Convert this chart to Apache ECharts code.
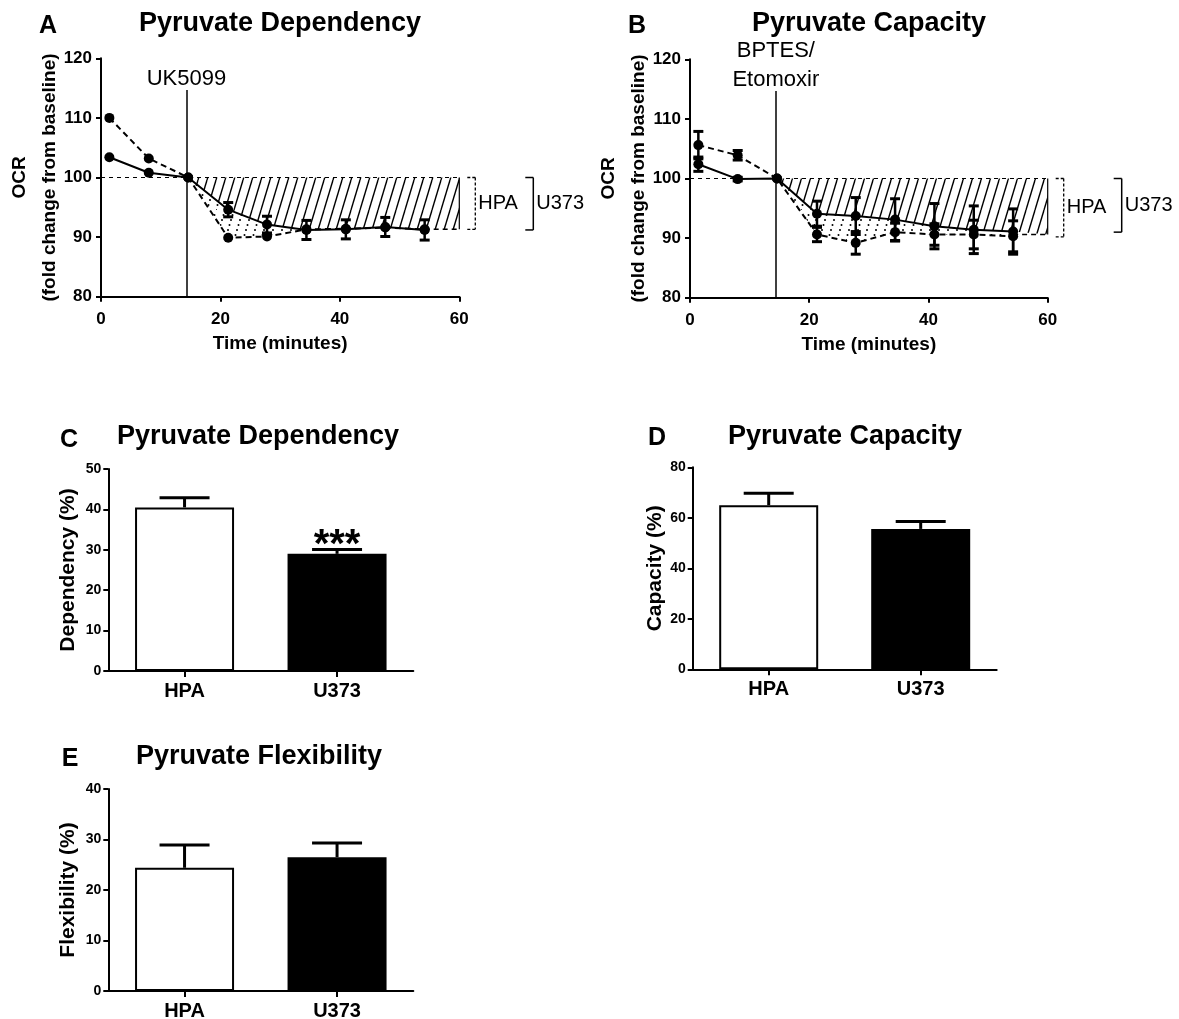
<!DOCTYPE html>
<html><head><meta charset="utf-8">
<script src="https://cdn.jsdelivr.net/npm/echarts@6/dist/echarts.min.js"></script>
<style>html,body{margin:0;padding:0;background:#fff}#chart{width:1179px;height:1019px}</style>
</head><body><div id="chart"></div>
<script>
const FONT = '"Liberation Sans", Arial, Helvetica, sans-serif';

// ---------- Panels A & B : OCR time course ----------
const times = [1.4, 8.0, 14.6, 21.3, 27.8, 34.4, 41.0, 47.6, 54.2];
const hpaA = [110.0, 103.2, 100.0, 89.9, 90.1, 91.3, 91.4, 91.6, 91.3];
const hpaErrA = [0, 0, 0, 0, 0, 0, 0, 0, 0];
const u373A = [103.4, 100.8, 100.0, 94.6, 92.1, 91.2, 91.3, 91.7, 91.2];
const u373ErrA = [0, 0, 0, 1.2, 1.4, 1.6, 1.6, 1.6, 1.7];
const hpaB = [105.6, 103.9, 100.0, 90.6, 89.2, 91.0, 90.6, 90.6, 90.3];
const hpaErrB = [2.3, 0.8, 0, 1.2, 1.9, 1.5, 1.8, 2.4, 2.6];
const u373B = [102.4, 99.9, 100.0, 94.1, 93.7, 93.1, 92.0, 91.4, 91.1];
const u373ErrB = [1.2, 0.3, 0, 2.1, 3.1, 3.5, 3.8, 4.0, 3.8];
const baseline = 100;
const injectIndex = 2;
const injectTime = [14.3, 14.4];
const injectTop = 114.7;
const injectLabels = ['UK5099', 'BPTES/\nEtomoxir'];
const hatchLow = [91.3, 90.6];
const bracketA = [[100, 91.3], [100, 91.2]];   // HPA, U373
const bracketB = [[100, 90.2], [100, 91.0]];
const timeMin = 0, timeMax = 60, timeStep = 20;
const ocrMin = 80, ocrMax = 120, ocrStep = 10;

// ---------- Panels C, D, E : bar charts ----------
const groups = ['HPA', 'U373'];
const dependency = [40.5, 29.0];
const dependencyErr = [2.4, 1.1];
const dependencySig = ['', '***'];
const capacity = [65.0, 55.6];
const capacityErr = [4.7, 2.9];
const flexibility = [24.4, 26.5];
const flexibilityErr = [4.5, 2.8];

// ---------- patterns ----------
function makeHatch(dotted) {
  const w = 9, h = 30;
  const cv = document.createElement('canvas');
  cv.width = w; cv.height = h;
  const ctx = cv.getContext('2d');
  ctx.fillStyle = '#000'; ctx.strokeStyle = '#000';
  if (!dotted) {
    ctx.lineWidth = 1.4;
    for (const k of [-1, 0, 1]) {
      ctx.beginPath(); ctx.moveTo(k * w, h); ctx.lineTo(k * w + w, 0); ctx.stroke();
    }
  } else {
    const n = 6;
    for (let k = 0; k < n; k++) {
      const t = k / n;
      ctx.beginPath(); ctx.arc(t * w, h - t * h, 1.0, 0, Math.PI * 2); ctx.fill();
    }
  }
  return { image: cv, repeat: 'repeat' };
}
const hatchPattern = makeHatch(false);
const dotPattern = makeHatch(true);

const blk = '#000';
function axisCommon(fs, margin) {
  return {
    axisLine: { show: true, onZero: false, lineStyle: { color: blk, width: 2 } },
    axisTick: { show: true, length: 5, lineStyle: { color: blk, width: 2 } },
    axisLabel: { color: blk, fontSize: fs, fontWeight: 'bold', fontFamily: FONT, margin: margin },
    splitLine: { show: false }
  };
}
const nameStyle = (fs, lh) => ({ color: blk, fontSize: fs, fontWeight: 'bold', fontFamily: FONT, lineHeight: lh || fs });

function timeX(gi) {
  return Object.assign({ type: 'value', gridIndex: gi, min: timeMin, max: timeMax, interval: timeStep,
    name: 'Time (minutes)', nameLocation: 'middle', nameGap: 38, nameMoveOverlap: false, nameTextStyle: nameStyle(19) }, axisCommon(17, 14));
}
function ocrY(gi) {
  return Object.assign({ type: 'value', gridIndex: gi, min: ocrMin, max: ocrMax, interval: ocrStep,
    name: 'OCR\n(fold change from baseline)', nameLocation: 'middle', nameGap: 36, nameMoveOverlap: false, nameTextStyle: nameStyle(19, 30) }, axisCommon(17, 9));
}
function catX(gi) {
  const a = Object.assign({ type: 'category', gridIndex: gi, data: groups }, axisCommon(20, 10));
  a.axisTick = { show: true, alignWithLabel: true, length: 6, lineStyle: { color: blk, width: 2 } };
  return a;
}
function pctY(gi, max, step, name, gap) {
  return Object.assign({ type: 'value', gridIndex: gi, min: 0, max: max, interval: step,
    name: name, nameLocation: 'middle', nameGap: gap, nameTextStyle: nameStyle(21) }, axisCommon(14, 7));
}

function lineSeries(gi, vals, dashed, name) {
  return { type: 'line', name: name, xAxisIndex: gi, yAxisIndex: gi, z: 5,
    data: times.map((t, i) => [t, vals[i]]), symbol: 'circle', symbolSize: 10,
    itemStyle: { color: blk }, lineStyle: { color: blk, width: 2, type: dashed ? [6, 4] : 'solid' } };
}
function errSeries(gi, vals, errs) {
  return { type: 'custom', xAxisIndex: gi, yAxisIndex: gi, z: 6, silent: true,
    data: times.map((t, i) => [t, vals[i], errs[i]]).filter(d => d[2] > 0),
    renderItem(params, api) {
      const x = api.value(0), y = api.value(1), e = api.value(2);
      const top = api.coord([x, y + e]), bot = api.coord([x, y - e]);
      const hw = 5, st = { stroke: blk, lineWidth: 2.5 };
      return { type: 'group', children: [
        { type: 'line', shape: { x1: top[0], y1: top[1], x2: bot[0], y2: bot[1] }, style: st },
        { type: 'line', shape: { x1: top[0] - hw, y1: top[1], x2: top[0] + hw, y2: top[1] }, style: { stroke: blk, lineWidth: 3 } },
        { type: 'line', shape: { x1: bot[0] - hw, y1: bot[1], x2: bot[0] + hw, y2: bot[1] }, style: { stroke: blk, lineWidth: 3 } }
      ] };
    } };
}
function areaSeries(gi, hpa, u373, low) {
  return { type: 'custom', xAxisIndex: gi, yAxisIndex: gi, z: 1, silent: true,
    data: [[times[injectIndex], baseline]],
    renderItem(params, api) {
      const c = (x, y) => api.coord([x, y]);
      const idx = times.map((t, i) => i).filter(i => i >= injectIndex);
      const lower = idx.map(i => c(times[i], u373[i]));
      const hatchPts = lower.concat([c(timeMax, low), c(timeMax, baseline), c(times[injectIndex], baseline)]);
      const dotPts = lower.concat(idx.slice().reverse().map(i => c(times[i], hpa[i])));
      const last = times[times.length - 1];
      const r1 = c(timeMax, baseline), r2 = c(timeMax, low), pl = c(last, low);
      return { type: 'group', children: [
        { type: 'polygon', shape: { points: dotPts }, style: { fill: dotPattern } },
        { type: 'polygon', shape: { points: hatchPts }, style: { fill: hatchPattern } },
        { type: 'line', shape: { x1: r1[0], y1: r1[1], x2: r2[0], y2: r2[1] }, style: { stroke: blk, lineWidth: 1.2 } },
        { type: 'line', shape: { x1: pl[0], y1: pl[1], x2: r2[0], y2: r2[1] }, style: { stroke: blk, lineWidth: 1.5, lineDash: [5, 4] } }
      ] };
    } };
}
function baselineSeries(gi) {
  return { type: 'line', xAxisIndex: gi, yAxisIndex: gi, z: 2, silent: true, symbol: 'none',
    data: [[timeMin, baseline], [timeMax, baseline]],
    lineStyle: { color: blk, width: 1, type: [4, 4] },
    markLine: { silent: true, symbol: 'none', animation: false,
      lineStyle: { color: blk, width: 1.5, type: 'solid' },
      label: { show: true, position: 'end', distance: -4, formatter: injectLabels[gi], color: blk, fontSize: 22, fontFamily: FONT, lineHeight: 29 },
      data: [[{ coord: [injectTime[gi], ocrMin] }, { coord: [injectTime[gi], injectTop] }]] } };
}
const bracketOffset = [8, 66];
function bracketSeries(gi, spans) {
  return { type: 'custom', xAxisIndex: gi, yAxisIndex: gi, z: 3, silent: true,
    data: spans.map((s, i) => [timeMax, s[0], s[1], i]),
    renderItem(params, api) {
      const i = api.value(3);
      const pt = api.coord([api.value(0), api.value(1)]), pb = api.coord([api.value(0), api.value(2)]);
      const x0 = pt[0] + bracketOffset[i], x1 = x0 + 8;
      const st = i === 0 ? { stroke: blk, lineWidth: 1.3, lineDash: [3, 2] } : { stroke: blk, lineWidth: 1.5 };
      return { type: 'group', children: [
        { type: 'line', shape: { x1: x0, y1: pt[1], x2: x1, y2: pt[1] }, style: st },
        { type: 'line', shape: { x1: x1, y1: pt[1], x2: x1, y2: pb[1] }, style: st },
        { type: 'line', shape: { x1: x0, y1: pb[1], x2: x1, y2: pb[1] }, style: st },
        { type: 'text', style: { text: groups[i], x: x1 + 3, y: (pt[1] + pb[1]) / 2, fill: blk,
          font: '20px ' + FONT, align: 'left', verticalAlign: 'middle', textAlign: 'left', textVerticalAlign: 'middle' } }
      ] };
    } };
}

function barSeries(gi, vals) {
  return { type: 'bar', xAxisIndex: gi, yAxisIndex: gi, barWidth: 99, z: 2,
    data: vals.map((v, i) => ({ value: v, itemStyle: { color: i === 0 ? '#fff' : '#000' } })),
    itemStyle: { borderColor: blk, borderWidth: 2 } };
}
function barErrSeries(gi, vals, errs, sig) {
  return { type: 'custom', xAxisIndex: gi, yAxisIndex: gi, z: 4, silent: true,
    data: vals.map((v, i) => [i, v, errs[i]]),
    renderItem(params, api) {
      const i = api.value(0), v = api.value(1), e = api.value(2);
      const p0 = api.coord([i, v]), p1 = api.coord([i, v + e]);
      const hw = 25, st = { stroke: blk, lineWidth: 3 };
      const ch = [
        { type: 'line', shape: { x1: p0[0], y1: p0[1], x2: p1[0], y2: p1[1] }, style: st },
        { type: 'line', shape: { x1: p1[0] - hw, y1: p1[1], x2: p1[0] + hw, y2: p1[1] }, style: st }
      ];
      if (sig && sig[i]) {
        ch.push({ type: 'text', style: { text: sig[i], x: p1[0], y: p1[1] - 3, fill: blk,
          font: 'bold 40px ' + FONT, align: 'center', verticalAlign: 'middle', textAlign: 'center', textVerticalAlign: 'middle' } });
      }
      return { type: 'group', children: ch };
    } };
}

function txt(text, x, y, size, bold) {
  return { type: 'text', x: x, y: y, silent: true,
    style: { text: text, fill: blk, font: (bold ? 'bold ' : '') + size + 'px ' + FONT,
      align: 'center', verticalAlign: 'middle', textAlign: 'center', textVerticalAlign: 'middle' } };
}

const option = {
  animation: false,
  backgroundColor: '#fff',
  textStyle: { fontFamily: FONT },
  graphic: [
    txt('A', 48, 26, 25, true), txt('Pyruvate Dependency', 280, 24, 27, true),
    txt('B', 637, 26, 25, true), txt('Pyruvate Capacity', 869, 24, 27, true),
    txt('C', 69, 440, 25, true), txt('Pyruvate Dependency', 258, 437, 27, true),
    txt('D', 657, 438, 25, true), txt('Pyruvate Capacity', 845, 437, 27, true),
    txt('E', 70, 759, 25, true), txt('Pyruvate Flexibility', 259, 757, 27, true)
  ],
  grid: [
    { left: 101, top: 58.3, width: 358.3, height: 238.4, containLabel: false, outerBoundsMode: 'none' },
    { left: 690, top: 59.3, width: 357.7, height: 238.4, containLabel: false, outerBoundsMode: 'none' },
    { left: 108.3, top: 469, width: 305, height: 202, containLabel: false, outerBoundsMode: 'none' },
    { left: 692.7, top: 467.3, width: 304, height: 202, containLabel: false, outerBoundsMode: 'none' },
    { left: 108.3, top: 789, width: 305, height: 202, containLabel: false, outerBoundsMode: 'none' }
  ],
  xAxis: [timeX(0), timeX(1), catX(2), catX(3), catX(4)],
  yAxis: [ocrY(0), ocrY(1),
    pctY(2, 50, 10, 'Dependency (%)', 30),
    pctY(3, 80, 20, 'Capacity (%)', 27),
    pctY(4, 40, 10, 'Flexibility (%)', 30)],
  series: [
    areaSeries(0, hpaA, u373A, hatchLow[0]),
    baselineSeries(0),
    lineSeries(0, hpaA, true, 'HPA'),
    lineSeries(0, u373A, false, 'U373'),
    errSeries(0, hpaA, hpaErrA),
    errSeries(0, u373A, u373ErrA),
    bracketSeries(0, bracketA),

    areaSeries(1, hpaB, u373B, hatchLow[1]),
    baselineSeries(1),
    lineSeries(1, hpaB, true, 'HPA'),
    lineSeries(1, u373B, false, 'U373'),
    errSeries(1, hpaB, hpaErrB),
    errSeries(1, u373B, u373ErrB),
    bracketSeries(1, bracketB),

    barSeries(2, dependency), barErrSeries(2, dependency, dependencyErr, dependencySig),
    barSeries(3, capacity), barErrSeries(3, capacity, capacityErr),
    barSeries(4, flexibility), barErrSeries(4, flexibility, flexibilityErr)
  ]
};
const chart = echarts.init(document.getElementById('chart'), null, { renderer: 'canvas' });
chart.setOption(option);
</script></body></html>
